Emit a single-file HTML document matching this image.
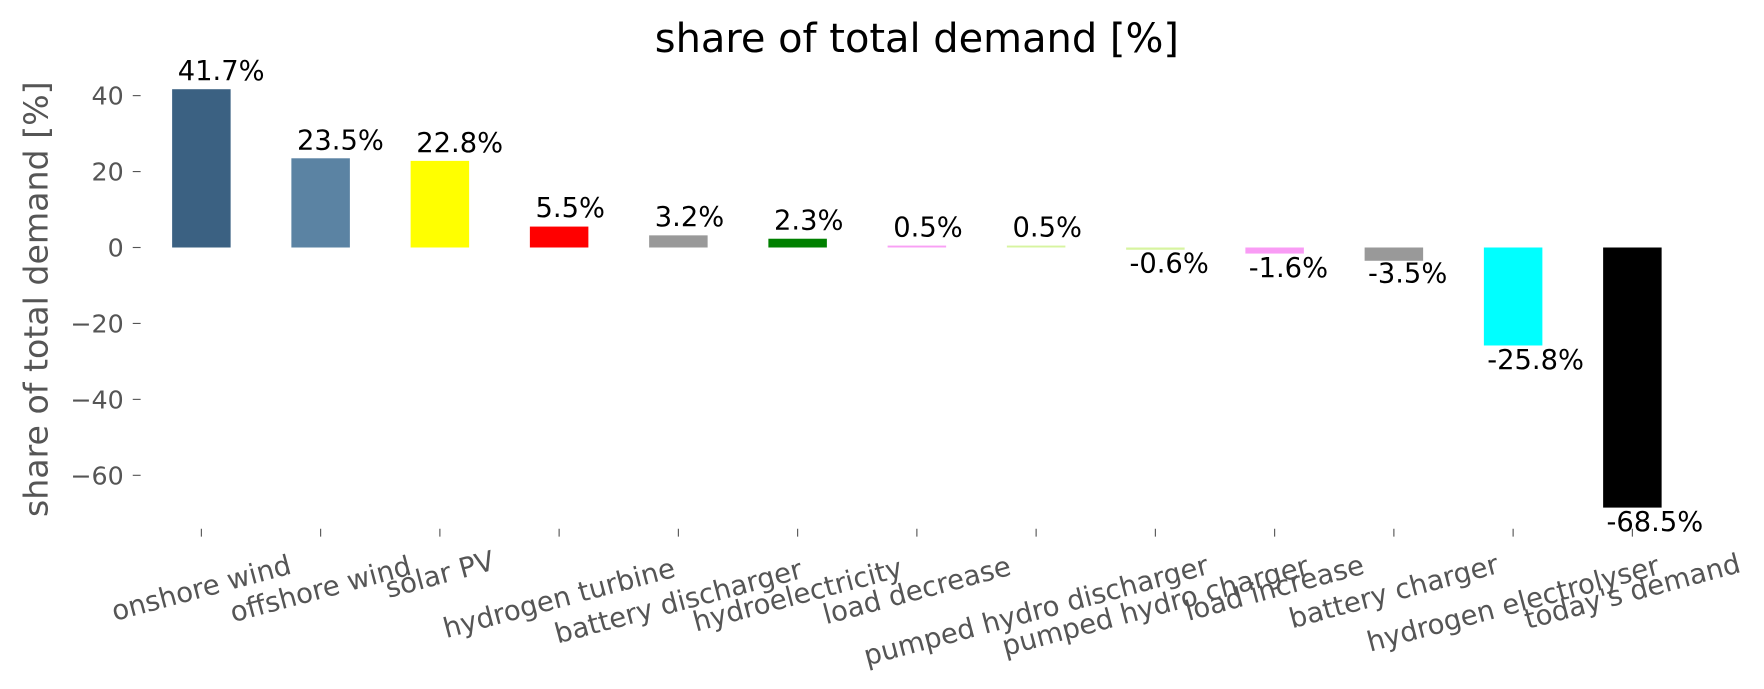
<!DOCTYPE html>
<html><head><style>html,body{margin:0;padding:0;background:#fff;}svg{display:block;}</style></head>
<body>
<svg width="1764" height="689" viewBox="0 0 1568 612.44" xmlns="http://www.w3.org/2000/svg" font-family="DejaVu Sans, Liberation Sans, sans-serif">
<rect width="1568" height="613" fill="#fff"/>
<text x="815" y="46" font-size="35.5" text-anchor="middle" fill="#000">share of total demand [%]</text>
<text transform="translate(42,266) rotate(-90)" font-size="29.5" text-anchor="middle" fill="#555">share of total demand [%]</text>
<g font-size="22.5" fill="#555" text-anchor="end">
<text x="110" y="93">40</text><line x1="118" y1="85" x2="125" y2="85" stroke="#555"/>
<text x="110" y="160.5">20</text><line x1="118" y1="152.5" x2="125" y2="152.5" stroke="#555"/>
<text x="110" y="228">0</text><line x1="118" y1="220" x2="125" y2="220" stroke="#555"/>
<text x="110" y="295.5">−20</text><line x1="118" y1="287.5" x2="125" y2="287.5" stroke="#555"/>
<text x="110" y="363">−40</text><line x1="118" y1="355" x2="125" y2="355" stroke="#555"/>
<text x="110" y="430.5">−60</text><line x1="118" y1="422.5" x2="125" y2="422.5" stroke="#555"/>
</g>
<g>
<rect x="153" y="79.3" width="52" height="140.7" fill="#3b6182"/>
<rect x="259" y="140.7" width="52" height="79.3" fill="#5b83a3"/>
<rect x="365" y="143.0" width="52" height="77" fill="#ffff00"/>
<rect x="471" y="201.4" width="52" height="18.6" fill="#ff0000"/>
<rect x="577" y="209.2" width="52" height="10.8" fill="#999999"/>
<rect x="683" y="212.2" width="52" height="7.8" fill="#008000"/>
<rect x="789" y="218.3" width="52" height="1.7" fill="#f9a0f5"/>
<rect x="895" y="218.3" width="52" height="1.7" fill="#d7f4a0"/>
<rect x="1001" y="220" width="52" height="2" fill="#d7f4a0"/>
<rect x="1107" y="220" width="52" height="5.4" fill="#f99cf5"/>
<rect x="1213" y="220" width="52" height="11.8" fill="#999999"/>
<rect x="1319" y="220" width="52" height="87.1" fill="#00ffff"/>
<rect x="1425" y="220" width="52" height="231.2" fill="#000000"/>
</g>
<g font-size="24.3" fill="#000">
<text x="158" y="71">41.7%</text>
<text x="264" y="133">23.5%</text>
<text x="370" y="135">22.8%</text>
<text x="476" y="193">5.5%</text>
<text x="582" y="201">3.2%</text>
<text x="688" y="204">2.3%</text>
<text x="794" y="210">0.5%</text>
<text x="900" y="210">0.5%</text>
<text x="1004" y="242">-0.6%</text>
<text x="1110" y="246">-1.6%</text>
<text x="1216" y="251">-3.5%</text>
<text x="1322" y="328">-25.8%</text>
<text x="1428" y="472">-68.5%</text>
</g>
<g stroke="#555">
<line x1="179" y1="470" x2="179" y2="477"/><line x1="285" y1="470" x2="285" y2="477"/><line x1="391" y1="470" x2="391" y2="477"/><line x1="497" y1="470" x2="497" y2="477"/><line x1="603" y1="470" x2="603" y2="477"/><line x1="709" y1="470" x2="709" y2="477"/><line x1="815" y1="470" x2="815" y2="477"/><line x1="921" y1="470" x2="921" y2="477"/><line x1="1027" y1="470" x2="1027" y2="477"/><line x1="1133" y1="470" x2="1133" y2="477"/><line x1="1239" y1="470" x2="1239" y2="477"/><line x1="1345" y1="470" x2="1345" y2="477"/><line x1="1451" y1="470" x2="1451" y2="477"/>
</g>
<g font-size="24.5" fill="#555" text-anchor="middle" dominant-baseline="central">
<text transform="translate(179,523) rotate(-15)">onshore wind</text>
<text transform="translate(285,524) rotate(-15)">offshore wind</text>
<text transform="translate(391,511) rotate(-15)">solar PV</text>
<text transform="translate(497,532) rotate(-15)">hydrogen turbine</text>
<text transform="translate(603,535) rotate(-15)">battery discharger</text>
<text transform="translate(709,529) rotate(-15)">hydroelectricity</text>
<text transform="translate(815,525) rotate(-15)">load decrease</text>
<text transform="translate(921,543) rotate(-15)">pumped hydro discharger</text>
<text transform="translate(1027,539) rotate(-15)">pumped hydro charger</text>
<text transform="translate(1133,523) rotate(-15)">load increase</text>
<text transform="translate(1239,526) rotate(-15)">battery charger</text>
<text transform="translate(1345,537) rotate(-15)">hydrogen electrolyser</text>
<text transform="translate(1451,526) rotate(-15)">today's demand</text>
</g>
</svg>
</body></html>
